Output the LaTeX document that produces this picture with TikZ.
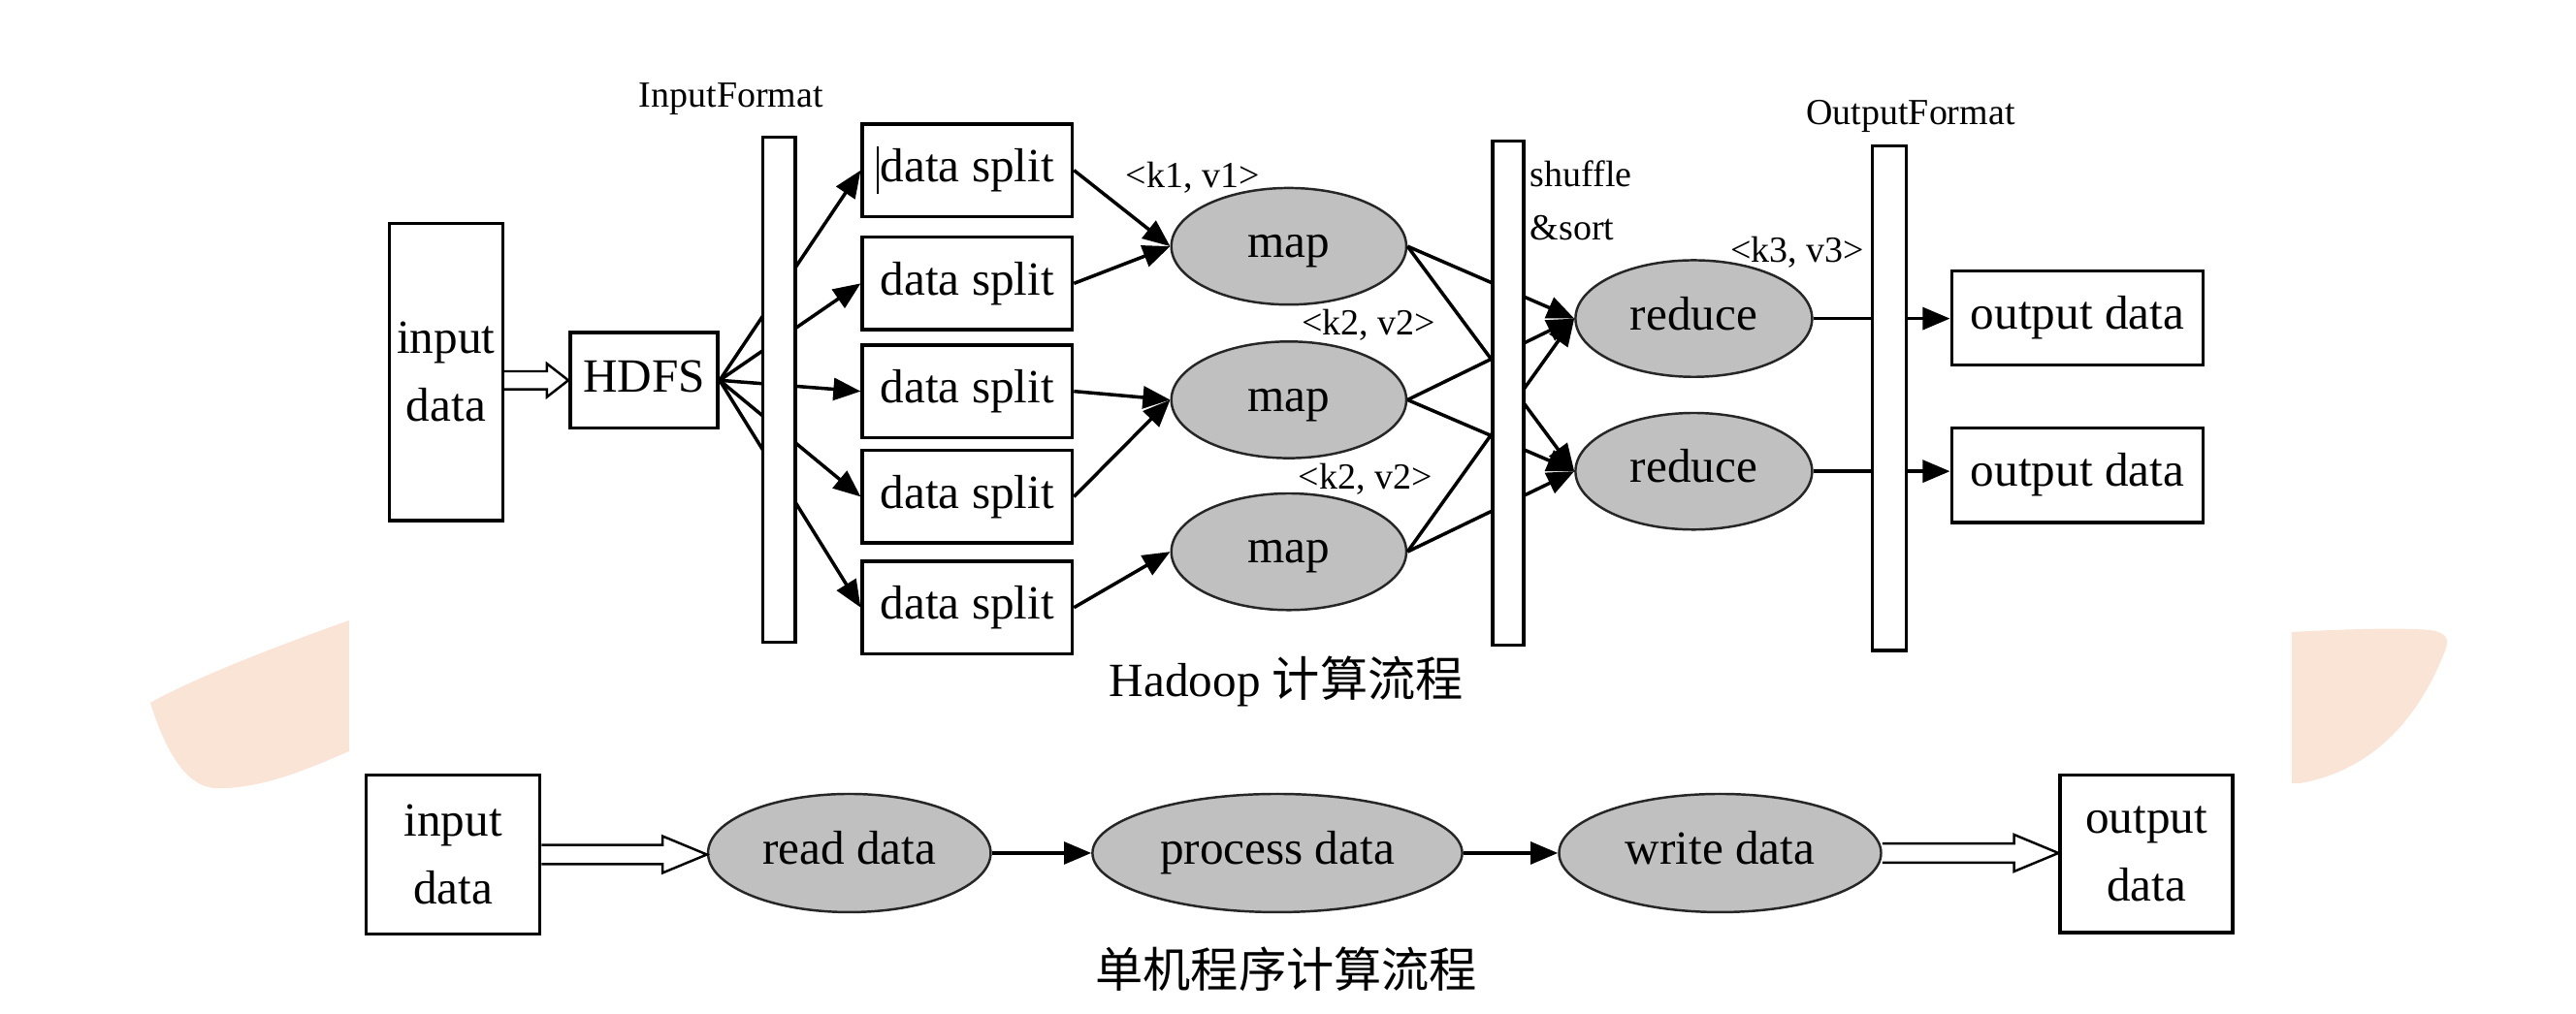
\documentclass[tikz,border=0pt]{standalone}
\usepackage{fontspec}
\setmainfont{Liberation Serif}
\newfontfamily\cjk{Noto Sans CJK SC}
\usetikzlibrary{arrows.meta,shapes.geometric,calc}
\definecolor{peach}{RGB}{250,228,214}
\definecolor{ellgray}{RGB}{192,192,192}
\def\vu{0.4820pt}
\newcommand\harrow[5]{\draw[hollow] let \p1=(#1), \p2=(#2) in
  (\x1,\y1+#3) -- (\x2-#5,\y1+#3) -- (\x2-#5,\y1+#4) -- (\x2,\y1) --
  (\x2-#5,\y1-#4) -- (\x2-#5,\y1-#3) -- (\x1,\y1-#3);}
\begin{document}
\begin{tikzpicture}[x=0.01694cm,y=-0.01694cm,
  sz/.style 2 args={minimum width=#1*\vu,minimum height=#2*\vu},
  box/.style={draw=black,line width=1pt,fill=white,inner sep=0pt,align=center,
    font=\fontsize{14}{20}\selectfont},
  one/.style={text height=9.7pt,text depth=3pt},
  bar/.style={draw=black,line width=1pt,fill=white,inner sep=0pt},
  proc/.style={ellipse,draw=black!85,line width=0.7pt,fill=ellgray,inner sep=0pt,
    font=\fontsize{14}{17}\selectfont,text height=9.7pt,text depth=3pt},
  lbl/.style={inner sep=0pt,font=\fontsize{10.8}{13}\selectfont},
  captext/.style={inner sep=0pt,font=\fontsize{14}{17}\selectfont},
  conn/.style={line width=1pt,-{Triangle[length=8pt,width=6.5pt]}},
  hollow/.style={draw=black,line width=0.7pt,fill=white,line join=miter}]
\fill[white] (0,0) rectangle (1568,617.5);
\useasboundingbox (0,0) rectangle (1568,617.5);
% decorative background shapes
\fill[peach] (212.5,377.8) .. controls (170,393) and (120,412) .. (91.5,428)
  .. controls (100,455) and (112,478) .. (130,480)
  .. controls (160,481) and (190,467) .. (212.5,457.5) -- cycle;
\fill[peach] (1394.9,384.9) .. controls (1430,383) and (1465,382) .. (1481,384)
  .. controls (1490,386) and (1491,390) .. (1488,397)
  .. controls (1475,430) and (1450,468) .. (1400,477) -- (1394.9,477) -- cycle;

% ---------- Hadoop flow ----------
\node[box,sz={69}{181}] (in1) at (271.5,226.5) {input\\data};
\node[box,one,sz={90}{58}] (hdfs) at (392,231.6) {HDFS};
\harrow{in1.east |- hdfs.west}{hdfs.west}{2.65pt}{4.9pt}{6.3pt}

\node[box,one,sz={127.7}{56.5}] (s1) at (588.8,103.7)
  {\llap{\rule[-0.25em]{0.7pt}{1.0em}\hspace{0.5pt}}data split};
\node[box,one,sz={127.7}{56.5}] (s2) at (588.8,172.6) {data split};
\node[box,one,sz={127.7}{56.5}] (s3) at (588.8,238.3) {data split};
\node[box,one,sz={127.7}{56.5}] (s4) at (588.8,302.5) {data split};
\node[box,one,sz={127.7}{56.5}] (s5) at (588.8,370) {data split};
\foreach \i in {1,...,5} \draw[conn] (hdfs.east) -- (s\i.west);
\node[bar,sz={19.5}{307.4}] (ibar) at (474.2,237.3) {};
\node[lbl] (iflbl) at (445,60) {InputFormat};

\node[proc,sz={143}{71}] (m1) at (784.5,150) {map};
\node[proc,sz={143}{71}] (m2) at (784.5,243.5) {map};
\node[proc,sz={143}{71}] (m3) at (784.5,336) {map};
\draw[conn] (s1.east) -- (m1.west);
\draw[conn] (s2.east) -- (m1.west);
\draw[conn] (s3.east) -- (m2.west);
\draw[conn] (s4.east) -- (m2.west);
\draw[conn] (s5.east) -- (m3.west);
\node[lbl] (kv1) at (726,108) {\textless k1, v1\textgreater};
\node[lbl] (kv2) at (833,198) {\textless k2, v2\textgreater};
\node[lbl] (kv3) at (831,292) {\textless k2, v2\textgreater};

\node[proc,sz={144}{71}] (r1) at (1031,194) {reduce};
\node[proc,sz={144}{71}] (r2) at (1031,287) {reduce};
\foreach \m in {m1,m2,m3} {
  \draw[conn] (\m.east) -- (r1.west);
  \draw[conn] (\m.east) -- (r2.west);
}
\node[bar,sz={19}{307}] (sbar) at (918,239.5) {};
\node[lbl,anchor=west] (shl) at (931,106) {shuffle};
\node[lbl,anchor=west] (sol) at (931,139) {\&sort};
\node[lbl] (kv4) at (1094,153.5) {\textless k3, v3\textgreater};

\node[box,one,sz={153}{57.4}] (o1) at (1264.5,193.7) {output data};
\node[box,one,sz={153}{57.5}] (o2) at (1264.5,289.4) {output data};
\draw[conn] (r1.east) -- (r1.east -| o1.west);
\draw[conn] (r2.east) -- (r2.east -| o2.west);
\node[bar,sz={20.5}{307}] (obar) at (1150,242.5) {};
\node[lbl] (oflbl) at (1163,71) {OutputFormat};

\node[captext] (cap1) at (783,415) {Hadoop {\cjk 计算流程}};

% ---------- single-machine flow ----------
\node[box,sz={105.6}{96.8}] (bin) at (275.8,520.4) {input\\data};
\node[proc,sz={172}{72}] (rd) at (517,519.5) {read data};
\node[proc,sz={225}{72}] (pd) at (777.5,519.5) {process data};
\node[proc,sz={196}{72}] (wd) at (1047,519.5) {write data};
\node[box,sz={105}{96}] (bout) at (1306.5,520) {output\\data};
\harrow{bin.east}{rd.west}{2.8pt}{5.4pt}{13pt}
\draw[conn] (rd.east) -- (pd.west);
\draw[conn] (pd.east) -- (wd.west);
\harrow{wd.east}{bout.west}{2.8pt}{5.4pt}{13pt}
\node[captext] (cap2) at (783,590) {\cjk 单机程序计算流程};
\end{tikzpicture}
\end{document}
